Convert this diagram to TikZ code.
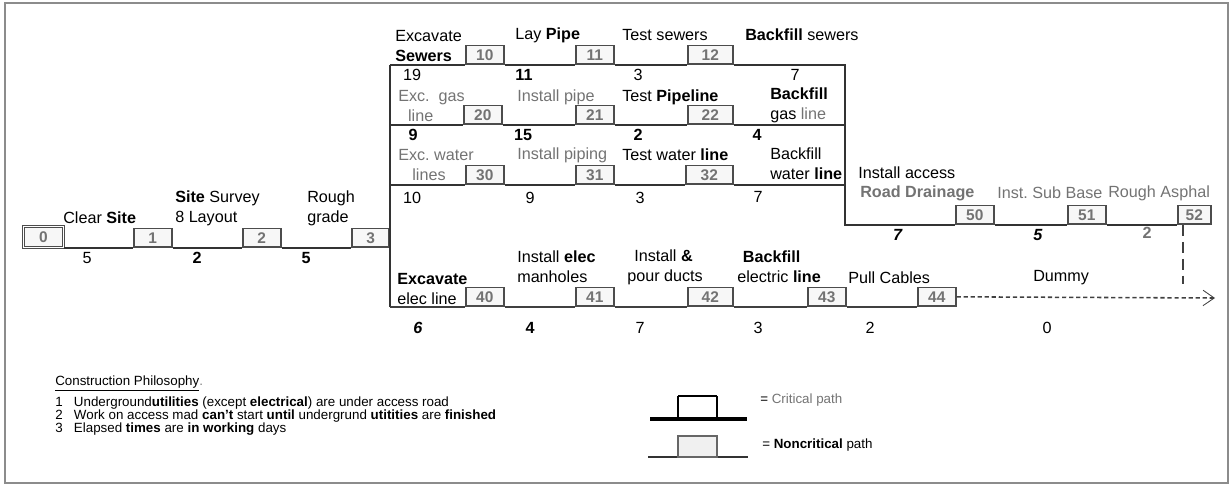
\documentclass[tikz,border=0pt]{standalone}
\usepackage{fontspec}
\setmainfont{Liberation Sans}
\usetikzlibrary{arrows.meta}

\begin{document}
\begin{tikzpicture}[
  x=0.025cm, y=-0.025cm,
  evt/.style={draw=black!70, line width=1.1pt, fill=black!3, rectangle,
              minimum width=0.95cm, minimum height=0.47cm, inner sep=0pt,
              font=\fontsize{11}{11}\selectfont\bfseries, text=black!55,
              anchor=south west},
  crit/.style={draw=black!80, line width=1.8pt},
  noncrit/.style={draw=black!75, line width=1pt},
  lbl/.style={anchor=west, inner sep=0pt, align=left,
              font=\fontsize{11.5}{14}\selectfont},
  dur/.style={inner sep=0pt, font=\fontsize{11.5}{12}\selectfont},
  faint/.style={text=black!55},
  dummy/.style={draw=black!75, line width=1.1pt, dash pattern=on 3pt off 2pt,
                -{Straight Barb[length=8pt,width=11pt,line width=0.6pt]}},
  vdash/.style={draw=black!75, line width=1.3pt, dash pattern=on 8pt off 4pt},
  note/.style={anchor=west, inner sep=0pt, font=\fontsize{9.5}{11}\selectfont}
]

% ===== line heights =====
\def\yMain{248}   % main line 0-3
\def\ySew{65}     % sewers
\def\yGas{125}    % gas line
\def\yWat{185}    % water line
\def\yRd{225}     % access road
\def\yEl{307}     % electric line

% ===== frame =====
\useasboundingbox (0,0) rectangle (1232,493);
\draw[black!45, line width=1pt] (5,3) rectangle (1228,483);

% ===== main line nodes =====
\node[evt, double, double distance=0.8pt, line width=0.7pt,
      minimum width=1cm, minimum height=0.52cm] (n0) at (23,\yMain) {0};
\node[evt] (n1) at (133,\yMain) {1};
\node[evt] (n2) at (242,\yMain) {2};
\node[evt, anchor=south east, minimum width=0.925cm] (n3) at (390,\yMain) {3};

% ===== sewers =====
\node[evt] (n10) at (465,\ySew) {10};
\node[evt] (n11) at (575,\ySew) {11};
\node[evt, minimum width=1.125cm] (n12) at (687,\ySew) {12};

% ===== gas line =====
\node[evt] (n20) at (463,\yGas) {20};
\node[evt] (n21) at (575,\yGas) {21};
\node[evt, minimum width=1.125cm] (n22) at (687,\yGas) {22};

% ===== water line =====
\node[evt] (n30) at (465,\yWat) {30};
\node[evt] (n31) at (575,\yWat) {31};
\node[evt, minimum width=1.175cm] (n32) at (685,\yWat) {32};

% ===== access road =====
\node[evt] (n50) at (955,\yRd) {50};
\node[evt] (n51) at (1067,\yRd) {51};
\node[evt, minimum width=0.825cm] (n52) at (1177,\yRd) {52};

% ===== electric line =====
\node[evt] (n40) at (465,\yEl) {40};
\node[evt] (n41) at (575,\yEl) {41};
\node[evt, minimum width=1.125cm] (n42) at (687,\yEl) {42};
\node[evt] (n43) at (807,\yEl) {43};
\node[evt] (n44) at (917,\yEl) {44};

\coordinate (jR) at (845,\yRd);
\coordinate (dv) at (1183,284);
\coordinate (dtip) at (1215,298);

% ===== connectors =====
\draw[crit] (n0.south east) -- (n1.south west)
            (n1.south east) -- (n2.south west)
            (n2.south east) -- (n3.south west);
\draw[crit] (n3.south east |- n10.south) -- (n3.south east |- n40.south);
\draw[crit] (n3.south east |- n10.south) -- (n10.south west)
            (n10.south east) -- (n11.south west)
            (n11.south east) -- (n12.south west)
            (n12.south east) -| (jR) -- (n50.south west);
\draw[crit] (n3.south east |- n20.south) -- (n20.south west)
            (n20.south east) -- (n21.south west)
            (n21.south east) -- (n22.south west)
            (n22.south east) -- (n22.south east -| jR);
\draw[crit] (n3.south east |- n30.south) -- (n30.south west)
            (n30.south east) -- (n31.south west)
            (n31.south east) -- (n32.south west)
            (n32.south east) -- (n32.south east -| jR);
\draw[crit] (n50.south east) -- (n51.south west)
            (n51.south east) -- (n52.south west);
\draw[noncrit] (n3.south east |- n40.south) -- (n40.south west)
               (n40.south east) -- (n41.south west)
               (n41.south east) -- (n42.south west)
               (n42.south east) -- (n43.south west)
               (n43.south east) -- (n44.south west);
\draw[dummy] (n44.east) -- (dtip);
\draw[vdash] (n52.south -| dv) -- (dv);

% ===== activity labels =====
\node[lbl] (lClear) at (63,218) {Clear \textbf{Site}};
\node[lbl] (lSurvey) at (175,208) {\textbf{Site} Survey\\8 Layout};
\node[lbl] (lRough) at (307,208) {Rough\\grade};
\node[lbl] (lExcS) at (395,46) {Excavate\\\textbf{Sewers}};
\node[lbl] (lLay) at (515,35) {Lay \textbf{Pipe}};
\node[lbl] (lTestS) at (622,35) {Test sewers};
\node[lbl] (lBackS) at (745,35) {\textbf{Backfill} sewers};
\node[lbl, faint] (lExcG) at (398,106) {Exc.\ \ gas\\\hspace*{7pt}line};
\node[lbl, faint] (lInsP) at (517,97) {Install pipe};
\node[lbl] (lTestP) at (622,97) {Test \textbf{Pipeline}};
\node[lbl] (lBackG) at (770,105) {\textbf{Backfill}\\gas {\color{black!55}line}};
\node[lbl, faint] (lExcW) at (398,165) {Exc.\ water\\\hspace*{10pt}lines};
\node[lbl, faint] (lInsPg) at (517,155) {Install piping};
\node[lbl] (lTestW) at (622,155) {Test water \textbf{line}};
\node[lbl] (lBackW) at (770,164) {Backfill\\water \textbf{line}};
\node[lbl] (lAcc) at (858,173) {Install access};
\node[lbl, faint] (lRoad) at (860,193) {\textbf{Road Drainage}};
\node[lbl, faint] (lSub) at (997,193) {Inst.\ Sub Base};
\node[lbl, faint] (lAsph) at (1108,193) {Rough Asphal};
\node[lbl] (lExcE) at (397,289) {\textbf{Excavate}\\elec line};
\node[lbl] (lMan) at (517,267) {Install \textbf{elec}\\manholes};
\node[lbl] (lDuct) at (627,267) {\hspace*{5pt}Install \textbf{\&}\\pour ducts};
\node[lbl] (lBackE) at (737,267) {\hspace*{4pt}\textbf{Backfill}\\electric \textbf{line}};
\node[lbl] (lPull) at (848,278) {Pull Cables};
\node[lbl] (lDum) at (1033,278) {Dummy};

% ===== durations =====
\node[dur] (d1) at (87,258) {5};
\node[dur] (d2) at (197,258) {\textbf{2}};
\node[dur] (d3) at (306,258) {\textbf{5}};
\node[dur] (d10) at (412,75) {19};
\node[dur] (d11) at (524,75) {\textbf{11}};
\node[dur] (d12) at (638,75) {3};
\node[dur] (d13) at (795,75) {7};
\node[dur] (d20) at (413,135) {\textbf{9}};
\node[dur] (d21) at (523,135) {\textbf{15}};
\node[dur] (d22) at (638,135) {\textbf{2}};
\node[dur] (d23) at (757,135) {\textbf{4}};
\node[dur] (d30) at (412,198) {10};
\node[dur] (d31) at (530,198) {9};
\node[dur] (d32) at (640,198) {3};
\node[dur] (d33) at (758,197) {7};
\node[dur] (d50) at (898,235) {\textbf{\itshape 7}};
\node[dur] (d51) at (1038,235) {\textbf{\itshape 5}};
\node[dur, faint] (d52) at (1147,233) {\textbf{2}};
\node[dur] (d40) at (418,328) {\textbf{\itshape 6}};
\node[dur] (d41) at (530,328) {\textbf{4}};
\node[dur] (d42) at (640,328) {7};
\node[dur] (d43) at (758,328) {3};
\node[dur] (d44) at (870,328) {2};
\node[dur] (d45) at (1047,328) {0};

% ===== construction philosophy =====
\node[note] (cpHead) at (55,383) {\underline{Construction Philosophy}{\color{black!50}.}};
\node[note] (cp1) at (55,403) {1\hspace{8pt}Underground\textbf{utilities} (except \textbf{electrical}) are under access road};
\node[note] (cp2) at (55,416) {2\hspace{8pt}Work on access mad \textbf{can't} start \textbf{until} undergrund \textbf{utitities} are \textbf{finished}};
\node[note] (cp3) at (55,429) {3\hspace{8pt}Elapsed \textbf{times} are \textbf{in working} days};

% ===== legend =====
\draw[black, line width=2.2pt] (650,419) -- (747,419);
\draw[black, line width=0.8pt] (678,419) -- (678,396);
\draw[black, line width=0.8pt] (717,396) -- (717,419);
\draw[black, line width=1.6pt] (678,396) -- (717,396);
\node[note] (lgCrit) at (760,400) {= {\color{black!55}Critical path}};
\draw[black!80, line width=0.8pt] (648,457) -- (748,457);
\draw[black!60, fill=black!6, line width=0.8pt] (678,457) rectangle (717,436);
\node[note] (lgNon) at (762,445) {= \textbf{Noncritical} path};

\end{tikzpicture}
\end{document}
